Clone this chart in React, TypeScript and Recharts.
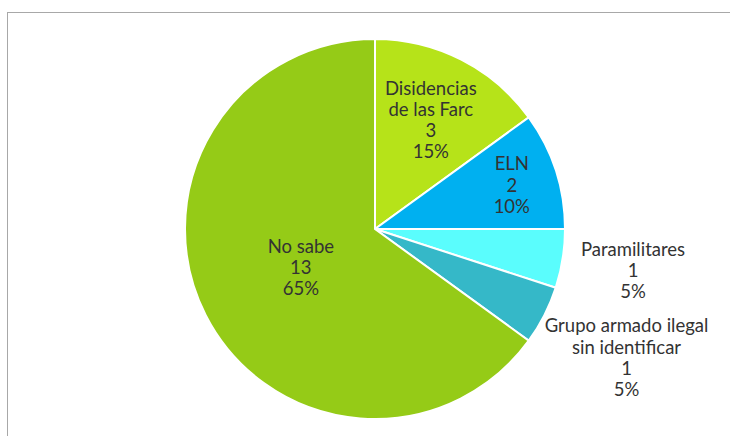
import React from "react";
import { PieChart, Pie, Cell } from "recharts";

const nameLines: string[][] = [
  ["Disidencias", "de las Farc"],
  ["ELN"],
  ["Paramilitares"],
  ["Grupo armado ilegal", "sin identificar"],
  ["No sabe"],
];
const categories = nameLines.map((l) => l.join(" "));
const values = [3, 2, 1, 1, 13];
const percents = ["15%", "10%", "5%", "5%", "65%"];
const colors = ["#b6e319", "#00b0f0", "#5afdfd", "#35b8c8", "#95cb17"];
const labelRadius = [0.647, 0.757, 1.375, 1.486, 0.438];

const data = categories.map((name, i) => ({ name, value: values[i] }));

const RADIAN = Math.PI / 180;
const LINE_H = 21.2;

const renderLabel = (props: any) => {
  const { cx, cy, midAngle, outerRadius, index } = props;
  const r = outerRadius * labelRadius[index];
  const x = cx + r * Math.cos(-midAngle * RADIAN);
  const y = cy + r * Math.sin(-midAngle * RADIAN);
  const lines = [...nameLines[index], String(values[index]), percents[index]];
  const startY = y - ((lines.length - 1) * LINE_H) / 2;
  return (
    <text
      x={x}
      y={startY}
      textAnchor="middle"
      dominantBaseline="central"
      fill="#333333"
      fontFamily="Lato, sans-serif"
      fontSize={18.5}
    >
      {lines.map((t, i) => (
        <tspan key={i} x={x} y={startY + i * LINE_H}>
          {t}
        </tspan>
      ))}
    </text>
  );
};

export default function App() {
  return (
    <div style={{ position: "absolute", left: 0, top: 0, width: 730, height: 436, overflow: "hidden", background: "#fff" }}>
      <div
        style={{
          position: "absolute",
          left: 7,
          top: 12,
          width: 740,
          height: 440,
          borderLeft: "1px solid #a8a8a8",
          borderTop: "1px solid #a8a8a8",
          boxSizing: "border-box",
        }}
      />
      <div style={{ position: "absolute", left: 0, top: 0 }}>
        <PieChart width={730} height={436} margin={{ top: 0, right: 0, bottom: 0, left: 0 }}>
          <Pie
            data={data}
            dataKey="value"
            nameKey="name"
            cx={375}
            cy={229}
            outerRadius={190}
            startAngle={90}
            endAngle={-270}
            stroke="#ffffff"
            strokeWidth={2}
            label={renderLabel}
            labelLine={false}
            isAnimationActive={false}
          >
            {data.map((_, i) => (
              <Cell key={i} fill={colors[i]} />
            ))}
          </Pie>
        </PieChart>
      </div>
    </div>
  );
}
